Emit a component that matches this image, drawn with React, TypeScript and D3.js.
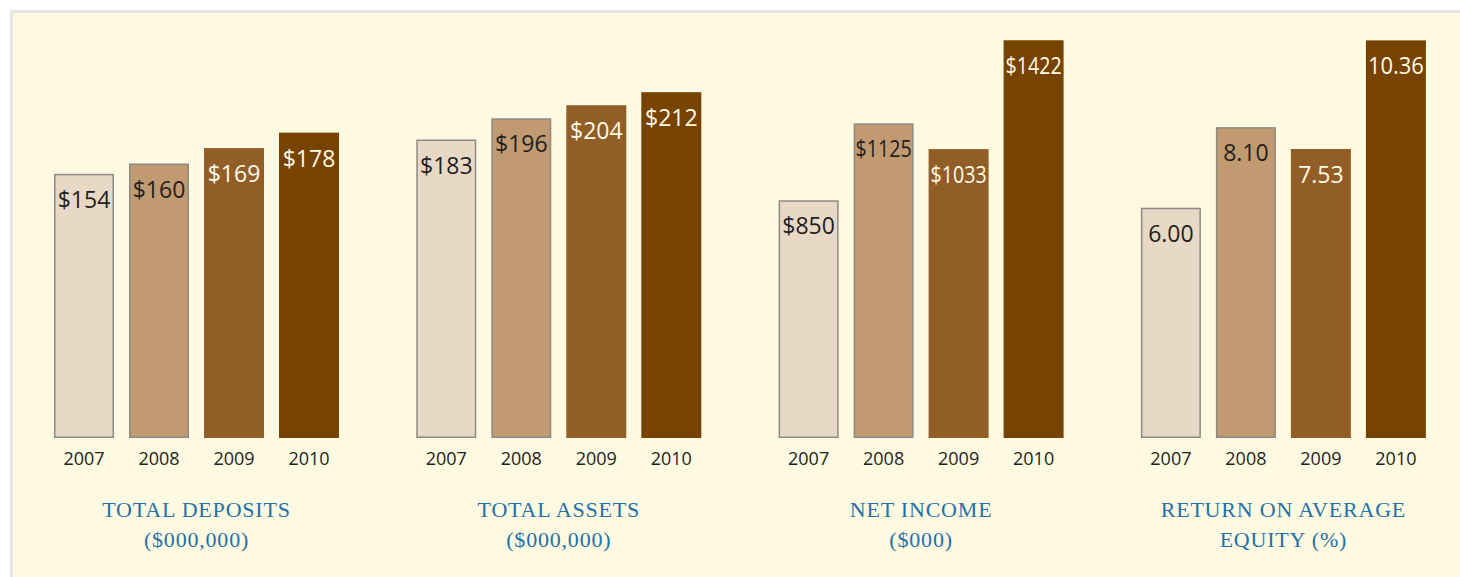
import React, { useEffect, useRef } from "react";
import * as d3 from "d3";

const years = ["2007", "2008", "2009", "2010"];
const depositsValues = [154, 160, 169, 178];
const assetsValues = [183, 196, 204, 212];
const incomeValues = [850, 1125, 1033, 1422];
const roaeValues = [6.0, 8.1, 7.53, 10.36];
const depositsLabels = ["$154", "$160", "$169", "$178"];
const assetsLabels = ["$183", "$196", "$204", "$212"];
const incomeLabels = ["$850", "$1125", "$1033", "$1422"];
const roaeLabels = ["6.00", "8.10", "7.53", "10.36"];
const titleLine1 = ["TOTAL DEPOSITS", "TOTAL ASSETS", "NET INCOME", "RETURN ON AVERAGE"];
const titleLine2 = ["($000,000)", "($000,000)", "($000)", "EQUITY (%)"];
const yMax = [232, 244, 1423, 10.37];

const barColors = ["#e8d8c6", "#c19a72", "#925e27", "#774300"];
const labelColors = ["#231f20", "#231f20", "#fffbe8", "#fffbe8"];
const outlined = [true, true, false, false];

const W = 1460;
const H = 577;

export default function App() {
  const ref = useRef<SVGSVGElement>(null);

  useEffect(() => {
    const svg = d3.select(ref.current);
    svg.selectAll("*").remove();

    svg
      .append("rect")
      .attr("x", 11.5)
      .attr("y", 11.5)
      .attr("width", W + 20)
      .attr("height", H + 20)
      .attr("fill", "#fef9e1")
      .attr("stroke", "#e7e6e2")
      .attr("stroke-width", 3);

    const panels = [
      { values: depositsValues, labels: depositsLabels },
      { values: assetsValues, labels: assetsLabels },
      { values: incomeValues, labels: incomeLabels },
      { values: roaeValues, labels: roaeLabels },
    ];

    const baseY = 438;
    const topY = 40;
    const groupW = 285;

    panels.forEach((p, i) => {
      const x0 = 54 + i * 362.3;
      const x = d3.scaleBand<string>().domain(years).range([x0, x0 + groupW]).paddingInner(0.2).paddingOuter(0);
      const y = d3.scaleLinear().domain([0, yMax[i]]).range([baseY, topY]);
      const g = svg.append("g");

      years.forEach((yr, j) => {
        const v = p.values[j];
        const bx = x(yr)!;
        const bw = x.bandwidth();
        const by = y(v);
        g.append("rect")
          .attr("x", bx + (outlined[j] ? 0.75 : 0))
          .attr("y", by + (outlined[j] ? 0.75 : 0))
          .attr("width", bw - (outlined[j] ? 1.5 : 0))
          .attr("height", y(0) - by - (outlined[j] ? 1.5 : 0))
          .attr("fill", barColors[j])
          .attr("stroke", outlined[j] ? "#8d8a85" : "none")
          .attr("stroke-width", outlined[j] ? 1.5 : 0);

        const t = g
          .append("text")
          .attr("x", bx + bw / 2)
          .attr("y", by + 34)
          .attr("text-anchor", "middle")
          .attr("font-family", "'Open Sans', sans-serif")
          .attr("font-size", 23)
          .attr("fill", labelColors[j])
          .text(p.labels[j]);
        const node = t.node() as SVGTextElement;
        const len = node.getComputedTextLength();
        if (len > bw - 4) {
          t.attr("textLength", bw - 4).attr("lengthAdjust", "spacingAndGlyphs");
        }

        g.append("text")
          .attr("x", bx + bw / 2)
          .attr("y", 465)
          .attr("text-anchor", "middle")
          .attr("font-family", "'Open Sans', sans-serif")
          .attr("font-size", 18)
          .attr("fill", "#231f20")
          .text(yr);
      });

      const cx = x0 + groupW / 2;
      [titleLine1[i], titleLine2[i]].forEach((line, k) => {
        g.append("text")
          .attr("x", cx)
          .attr("y", 517 + k * 30)
          .attr("text-anchor", "middle")
          .attr("font-family", "'Liberation Serif', serif")
          .attr("font-size", 22)
          .attr("letter-spacing", 0.8)
          .attr("fill", "#2471a9")
          .text(line);
      });
    });
  }, []);

  return (
    <svg
      ref={ref}
      width={W}
      height={H}
      style={{ position: "absolute", left: 0, top: 0, display: "block" }}
    />
  );
}
